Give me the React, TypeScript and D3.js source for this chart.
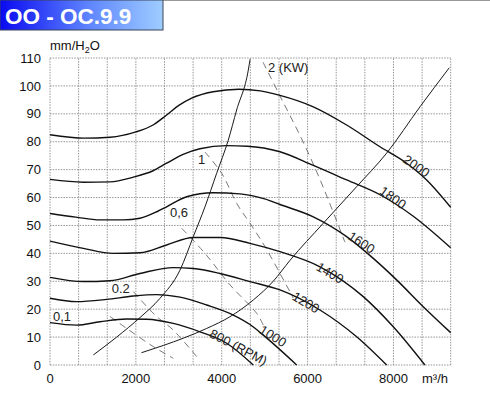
import React from 'react';
import * as d3 from 'd3';

// fan curve chart OO - OC.9.9 (pressure vs air flow)

const title = 'OO - OC.9.9';
const yUnit = 'mm/H';
const xUnit = 'm³/h';

const xTicks = [0, 2000, 4000, 6000, 8000];
const yTicks = [0, 10, 20, 30, 40, 50, 60, 70, 80, 90, 100, 110];
const xMax = 28000 / 3;
const xGridSteps = 14;

// speed curves (RPM) : [m3/h, mm H2O]
const rpm2000: [number, number][] = [[0, 82.5], [800, 81.3], [1400, 81.6], [2000, 83.5], [2400, 86], [2717, 89.6], [3000, 93], [3300, 95.6], [3800, 97.9], [4400, 98.8], [4900, 98.2], [5357, 96.6], [6133, 92.5], [6909, 86], [7686, 78.2], [8307, 72.3], [8773, 66.3], [9333, 56.5]];
const rpm1800: [number, number][] = [[0, 66.5], [776, 65.5], [1400, 65.6], [1940, 67.3], [2400, 69.6], [2717, 72.3], [3100, 75.5], [3493, 77.5], [4115, 78.6], [4600, 78.4], [5357, 76.4], [6133, 71.5], [6909, 66.3], [7686, 61], [8462, 53.3], [9333, 42]];
const rpm1600: [number, number][] = [[0, 54.3], [600, 53], [1164, 52], [1700, 52], [2096, 52.6], [2500, 55], [2717, 56.7], [3183, 60.3], [3803, 61.7], [4425, 61.3], [5000, 59.5], [5357, 57.5], [6133, 53.1], [6909, 46], [7530, 38.2], [8073, 30.5], [8694, 20.9], [9333, 11.6]];
const rpm1400: [number, number][] = [[0, 44.4], [776, 41.8], [1475, 40], [2096, 40.2], [2717, 43], [3338, 45.7], [3959, 45.7], [4658, 43.6], [5357, 40.6], [6288, 35.2], [7297, 24.5], [7996, 13.7], [8733, 0]];
const rpm1200: [number, number][] = [[0, 31.4], [776, 29.9], [1397, 30.2], [2096, 32.8], [2872, 34.9], [3338, 34.6], [3959, 32.8], [4658, 29.9], [5357, 26.9], [6288, 19.7], [7143, 10.1], [7841, 0]];
const rpm1000: [number, number][] = [[0, 23.9], [621, 22.7], [1320, 23.5], [1941, 24.7], [2484, 25.2], [3028, 24.3], [3648, 21.5], [4270, 17.9], [4658, 14.5], [4968, 10.7], [5746, 0]];
const rpm800: [number, number][] = [[0, 15.2], [621, 14.3], [1164, 15.5], [1786, 16.5], [2252, 16.4], [2872, 14.9], [3493, 11.9], [4115, 7.8], [4735, 0]];

// system curves
const sysA: [number, number][] = [[1009, 3.6], [1553, 10], [2096, 17], [2562, 23.9], [3028, 34], [3338, 46], [3610, 56.7], [3882, 68.7], [4153, 80.6], [4348, 91.4], [4619, 105.7], [4660, 109.5]];
const sysB: [number, number][] = [[2130, 4.4], [2640, 7], [3105, 9.6], [3649, 13.1], [4192, 17.3], [4735, 23.3], [5200, 30], [5590, 37.5], [6366, 50.8], [7143, 63.9], [7841, 75.9], [8617, 92.5], [9300, 106.5]];

// absorbed power lines (KW)
const kw01: [number, number][] = [[1397, 17.4], [1786, 13.1], [2406, 6.6], [2872, 2.4]];
const kw02: [number, number][] = [[1941, 26.3], [2446, 17.9], [2872, 12.5], [3417, 3]];
const kw06: [number, number][] = [[3067, 49], [3610, 40], [4193, 28.7], [4815, 18.5], [4968, 14.3]];
const kw1: [number, number][] = [[3610, 76.3], [3999, 68.7], [4348, 57.9], [4658, 50.8], [5008, 42.4], [5667, 24]];
const kw2: [number, number][] = [[4961, 108.5], [5357, 96.4], [5862, 81], [6288, 66.5], [6870, 44]];

const rpmCurves = [rpm2000, rpm1800, rpm1600, rpm1400, rpm1200, rpm1000, rpm800];
const sysCurves = [sysA, sysB];
const kwLines = [kw01, kw02, kw06, kw1, kw2];

// rotated speed labels: text, position [m3/h, mm], angle
const rpmLabels: { t: string; p: [number, number]; a: number }[] = [
  { t: '2000', p: [8537, 71.3], a: 35 },
  { t: '1800', p: [7989, 60], a: 35 },
  { t: '1600', p: [7256, 43.9], a: 33 },
  { t: '1400', p: [6522, 33], a: 30 },
  { t: '1200', p: [5963, 22.4], a: 31 },
  { t: '1000', p: [5194, 10.4], a: 32 },
  { t: '800 (RPM)', p: [4391, 6.4], a: 28 },
];
const kwLabels: { t: string; p: [number, number] }[] = [
  { t: '0,1', p: [70, 15.8] },
  { t: '0.2', p: [1437, 25.8] },
  { t: '0,6', p: [2795, 53] },
  { t: '1', p: [3447, 72] },
  { t: '2 (KW)', p: [5078, 105] },
];

const W = 490;
const H = 394;
const font = '"Liberation Sans", Arial, sans-serif';

export default function App() {
  const x = d3.scaleLinear().domain([0, xMax]).range([50, 450.7]);
  const y = d3.scaleLinear().domain([0, 110]).range([365, 58]);

  const line = d3.line<[number, number]>()
    .x(d => x(d[0]))
    .y(d => y(d[1]))
    .curve(d3.curveMonotoneX);
  const straight = d3.line<[number, number]>()
    .x(d => x(d[0]))
    .y(d => y(d[1]))
    .curve(d3.curveCatmullRom);

  const gridX = d3.range(xGridSteps + 1).map(i => (i * xMax) / xGridSteps);

  return (
    <svg width={W} height={H} style={{ position: 'absolute', left: 0, top: 0, background: '#fff' }} fontFamily={font}>
      <defs>
        <linearGradient id="titleGrad" x1="0" x2="1" y1="0" y2="0">
          <stop offset="0%" stopColor="#0a0af0" />
          <stop offset="55%" stopColor="#5f86ff" />
          <stop offset="100%" stopColor="#9fcdff" />
        </linearGradient>
      </defs>

      {/* title bar */}
      <line x1={0} x2={W} y1={0.5} y2={0.5} stroke="#999" strokeWidth={1} />
      <rect x={0} y={0} width={163} height={30} fill="url(#titleGrad)" stroke="#3a4558" strokeWidth={1} />
      <text x={5} y={24} fill="#fff" fontSize={22.5} fontWeight="bold" fontFamily={font}>{title}</text>

      {/* grid */}
      <g stroke="#8a8a8a" strokeWidth={0.9} strokeDasharray="1.5 1.2">
        {yTicks.map(v => (
          <line key={'h' + v} x1={x(0)} x2={x(xMax)} y1={y(v)} y2={y(v)} />
        ))}
        {gridX.map((v, i) => (
          <line key={'v' + i} x1={x(v)} x2={x(v)} y1={y(0)} y2={y(110)} />
        ))}
      </g>

      {/* axis labels */}
      <g fontSize={13} fill="#111">
        {yTicks.map(v => (
          <text key={'yt' + v} x={41} y={y(v)} dy="0.36em" textAnchor="end">{v}</text>
        ))}
        {xTicks.map(v => (
          <text key={'xt' + v} x={x(v)} y={383} textAnchor="middle">{v}</text>
        ))}
        <text x={422} y={383}>{xUnit}</text>
        <text x={50} y={50}>
          {yUnit}
          <tspan fontSize={9} dy={3}>2</tspan>
          <tspan dy={-3}>O</tspan>
        </text>
      </g>

      {/* power lines */}
      <g fill="none" stroke="#555" strokeWidth={0.8} strokeDasharray="7 5">
        {kwLines.map((d, i) => (
          <path key={'kw' + i} d={straight(d) || ''} />
        ))}
      </g>

      {/* system curves */}
      <g fill="none" stroke="#1a1a1a" strokeWidth={1}>
        {sysCurves.map((d, i) => (
          <path key={'s' + i} d={line(d) || ''} />
        ))}
      </g>

      {/* speed curves */}
      <g fill="none" stroke="#111" strokeWidth={1.4}>
        {rpmCurves.map((d, i) => (
          <path key={'r' + i} d={line(d) || ''} />
        ))}
      </g>

      {/* labels */}
      <g fontSize={13} fill="#222">
        {rpmLabels.map(l => (
          <text
            key={l.t}
            x={x(l.p[0])}
            y={y(l.p[1])}
            dy="0.35em"
            textAnchor="middle"
            transform={`rotate(${l.a} ${x(l.p[0])} ${y(l.p[1])})`}
          >
            {l.t}
          </text>
        ))}
        {kwLabels.map(l => (
          <text key={l.t} x={x(l.p[0])} y={y(l.p[1])}>{l.t}</text>
        ))}
      </g>
    </svg>
  );
}
